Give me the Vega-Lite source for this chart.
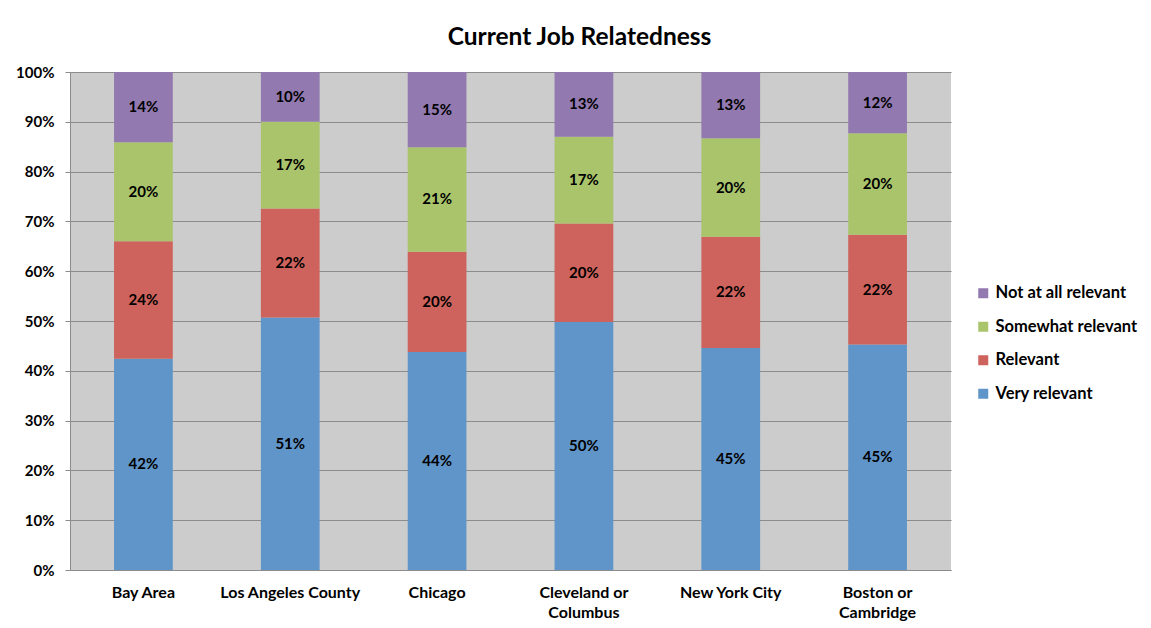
{
  "$schema": "https://vega.github.io/schema/vega-lite/v6.json",
  "autosize": "none",
  "width": 881,
  "height": 498,
  "padding": {"left": 70, "top": 72, "right": 200, "bottom": 58},
  "background": "white",
  "config": {
    "font": "Lato",
    "view": {"fill": "#CCCCCC", "stroke": null}
  },
  "title": {
    "text": "Current Job Relatedness",
    "fontSize": 24.5,
    "fontWeight": "bold",
    "font": "Lato",
    "color": "#000000",
    "anchor": "middle",
    "dx": 69,
    "offset": 15
  },
  "data": {
    "values": [
      {"city": "Bay Area", "cat": "Very relevant", "level": 1, "pct": 0.424},
      {"city": "Bay Area", "cat": "Relevant", "level": 2, "pct": 0.236},
      {"city": "Bay Area", "cat": "Somewhat relevant", "level": 3, "pct": 0.199},
      {"city": "Bay Area", "cat": "Not at all relevant", "level": 4, "pct": 0.141},
      {"city": "Los Angeles County", "cat": "Very relevant", "level": 1, "pct": 0.507},
      {"city": "Los Angeles County", "cat": "Relevant", "level": 2, "pct": 0.219},
      {"city": "Los Angeles County", "cat": "Somewhat relevant", "level": 3, "pct": 0.174},
      {"city": "Los Angeles County", "cat": "Not at all relevant", "level": 4, "pct": 0.100},
      {"city": "Chicago", "cat": "Very relevant", "level": 1, "pct": 0.438},
      {"city": "Chicago", "cat": "Relevant", "level": 2, "pct": 0.201},
      {"city": "Chicago", "cat": "Somewhat relevant", "level": 3, "pct": 0.210},
      {"city": "Chicago", "cat": "Not at all relevant", "level": 4, "pct": 0.151},
      {"city": "Cleveland or Columbus", "cat": "Very relevant", "level": 1, "pct": 0.498},
      {"city": "Cleveland or Columbus", "cat": "Relevant", "level": 2, "pct": 0.198},
      {"city": "Cleveland or Columbus", "cat": "Somewhat relevant", "level": 3, "pct": 0.174},
      {"city": "Cleveland or Columbus", "cat": "Not at all relevant", "level": 4, "pct": 0.130},
      {"city": "New York City", "cat": "Very relevant", "level": 1, "pct": 0.446},
      {"city": "New York City", "cat": "Relevant", "level": 2, "pct": 0.223},
      {"city": "New York City", "cat": "Somewhat relevant", "level": 3, "pct": 0.198},
      {"city": "New York City", "cat": "Not at all relevant", "level": 4, "pct": 0.133},
      {"city": "Boston or Cambridge", "cat": "Very relevant", "level": 1, "pct": 0.453},
      {"city": "Boston or Cambridge", "cat": "Relevant", "level": 2, "pct": 0.220},
      {"city": "Boston or Cambridge", "cat": "Somewhat relevant", "level": 3, "pct": 0.204},
      {"city": "Boston or Cambridge", "cat": "Not at all relevant", "level": 4, "pct": 0.123}
    ]
  },
  "encoding": {
    "x": {
      "field": "city",
      "type": "nominal",
      "sort": null,
      "scale": {"paddingInner": 0.6, "paddingOuter": 0.3},
      "axis": {
        "title": null,
        "labelAngle": 0,
        "labelFont": "Lato",
        "labelFontSize": 16,
        "labelFontWeight": "bold",
        "labelColor": "#000000",
        "labelPadding": 14,
        "labelLineHeight": 20,
        "labelExpr": "datum.value == 'Cleveland or Columbus' ? ['Cleveland or', 'Columbus'] : datum.value == 'Boston or Cambridge' ? ['Boston or', 'Cambridge'] : datum.value",
        "ticks": false,
        "domainColor": "#8C8C8C",
        "grid": false
      }
    },
    "y": {
      "field": "pct",
      "type": "quantitative",
      "stack": "zero",
      "scale": {"domain": [0, 1], "nice": false},
      "axis": {
        "title": null,
        "format": ".0%",
        "values": [0, 0.1, 0.2, 0.3, 0.4, 0.5, 0.6, 0.7, 0.8, 0.9, 1],
        "labelOverlap": false,
        "labelFont": "Lato",
        "labelFontSize": 15,
        "labelFontWeight": "bold",
        "labelColor": "#000000",
        "labelPadding": 11,
        "grid": true,
        "gridColor": "#8C8C8C",
        "gridWidth": 1,
        "tickColor": "#8C8C8C",
        "tickSize": 5,
        "domainColor": "#8C8C8C"
      }
    },
    "order": {"field": "level", "type": "quantitative", "sort": "ascending"}
  },
  "layer": [
    {
      "mark": {"type": "bar"},
      "encoding": {
        "color": {
          "field": "cat",
          "type": "nominal",
          "scale": {
            "domain": ["Not at all relevant", "Somewhat relevant", "Relevant", "Very relevant"],
            "range": ["#9279B0", "#A9C46B", "#CD635C", "#6095C9"]
          },
          "legend": {
            "title": null,
            "orient": "none",
            "legendX": 905,
            "legendY": 213,
            "symbolType": "square",
            "symbolSize": 100,
            "symbolStrokeWidth": 0,
            "labelFont": "Lato",
            "labelFontSize": 16.5,
            "labelFontWeight": "bold",
            "labelColor": "#000000",
            "rowPadding": 16.5,
            "labelOffset": 4
          }
        }
      }
    },
    {
      "mark": {"type": "text", "font": "Lato", "fontSize": 15, "fontWeight": "bold", "color": "#000000", "baseline": "middle"},
      "encoding": {
        "y": {"field": "pct", "type": "quantitative", "stack": "zero", "bandPosition": 0.5},
        "text": {"field": "pct", "type": "quantitative", "format": ".0%"},
        "detail": {"field": "cat", "type": "nominal"}
      }
    }
  ]
}
